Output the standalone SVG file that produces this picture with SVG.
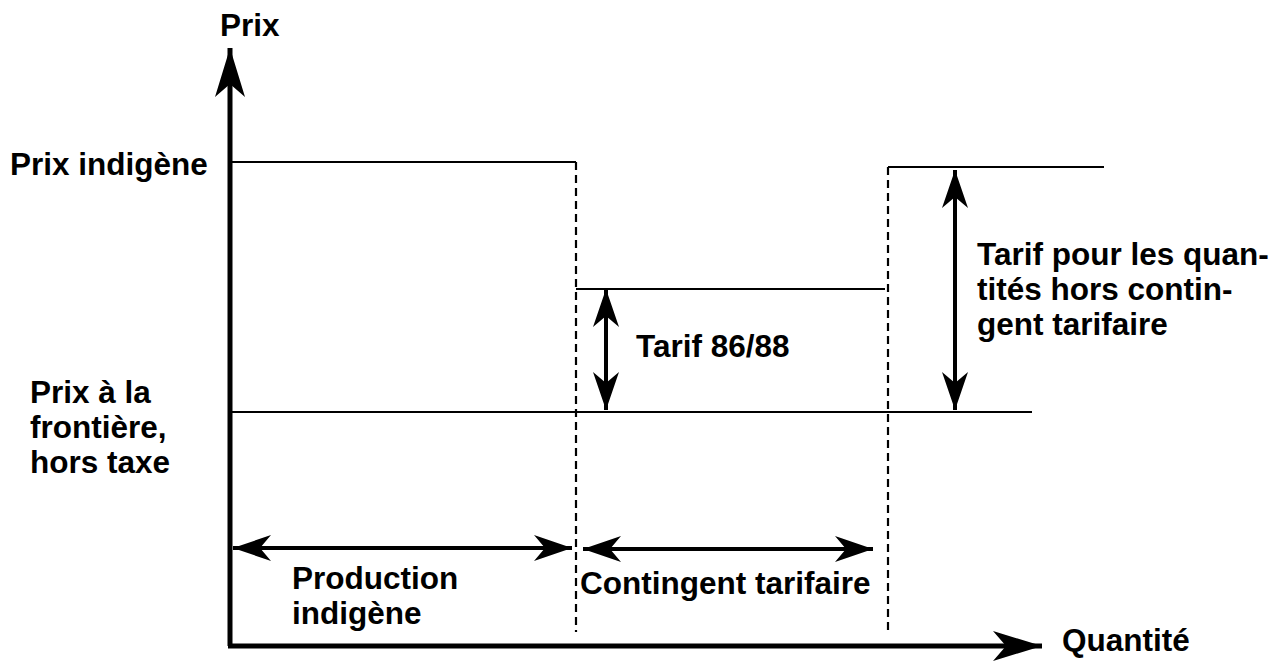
<svg xmlns="http://www.w3.org/2000/svg" width="1279" height="662" viewBox="0 0 1279 662">
<defs>
<style>
text{font-family:"Liberation Sans",Arial,sans-serif;font-weight:bold;font-size:31.5px;fill:#000}
.thin{stroke:#000;stroke-width:2.2;fill:none}
.dash{stroke:#000;stroke-width:2.2;stroke-dasharray:8 5;fill:none}
.dbl{stroke:#000;stroke-width:4;fill:none;marker-start:url(#ah);marker-end:url(#ah)}
.axis{stroke:#000;stroke-width:5;fill:none;marker-end:url(#axh)}
</style>
<marker id="ah" viewBox="-40 -14 42 28" refX="0" refY="0" markerWidth="42" markerHeight="28" markerUnits="userSpaceOnUse" orient="auto-start-reverse">
<path d="M0,0 L-38,-13 L-27,0 L-38,13 Z" fill="#000"/>
</marker>
<marker id="axh" viewBox="-52 -17 54 34" refX="0" refY="0" markerWidth="54" markerHeight="34" markerUnits="userSpaceOnUse" orient="auto">
<path d="M0,0 L-49,-15 L-36,0 L-49,15 Z" fill="#000"/>
</marker>
</defs>
<g id="connectors">
<line class="thin" x1="230" y1="162" x2="576" y2="162"/>
<line class="thin" x1="576" y1="289" x2="885" y2="289"/>
<line class="thin" x1="230" y1="412" x2="1032" y2="412"/>
<line class="thin" x1="888" y1="167" x2="1104" y2="167"/>
<line class="dash" x1="576" y1="162" x2="576" y2="632"/>
<line class="dash" x1="888" y1="167" x2="888" y2="632"/>
<line class="dbl" x1="606" y1="289" x2="606" y2="410"/>
<line class="dbl" x1="955" y1="170" x2="955" y2="410"/>
<line class="dbl" x1="233" y1="548" x2="572" y2="548"/>
<line class="dbl" x1="583" y1="549" x2="873" y2="549"/>
<polyline class="axis" points="230,646 230,48"/>
<polyline class="axis" points="228,646 1042,646"/>
</g>
<g id="label-prix"><text x="220" y="36">Prix</text></g>
<g id="label-quantite"><text x="1062" y="651">Quantité</text></g>
<g id="label-prix-indigene"><text x="10" y="175">Prix indigène</text></g>
<g id="label-prix-frontiere">
<text x="30" y="403">Prix à la</text>
<text x="30" y="438">frontière,</text>
<text x="30" y="473">hors taxe</text>
</g>
<g id="label-tarif8688"><text x="636" y="357">Tarif 86/88</text></g>
<g id="label-tarif-hors">
<text x="977" y="265">Tarif pour les quan-</text>
<text x="977" y="300">tités hors contin-</text>
<text x="977" y="335">gent tarifaire</text>
</g>
<g id="label-production">
<text x="292" y="589">Production</text>
<text x="292" y="624">indigène</text>
</g>
<g id="label-contingent"><text x="580" y="594">Contingent tarifaire</text></g>
</svg>
